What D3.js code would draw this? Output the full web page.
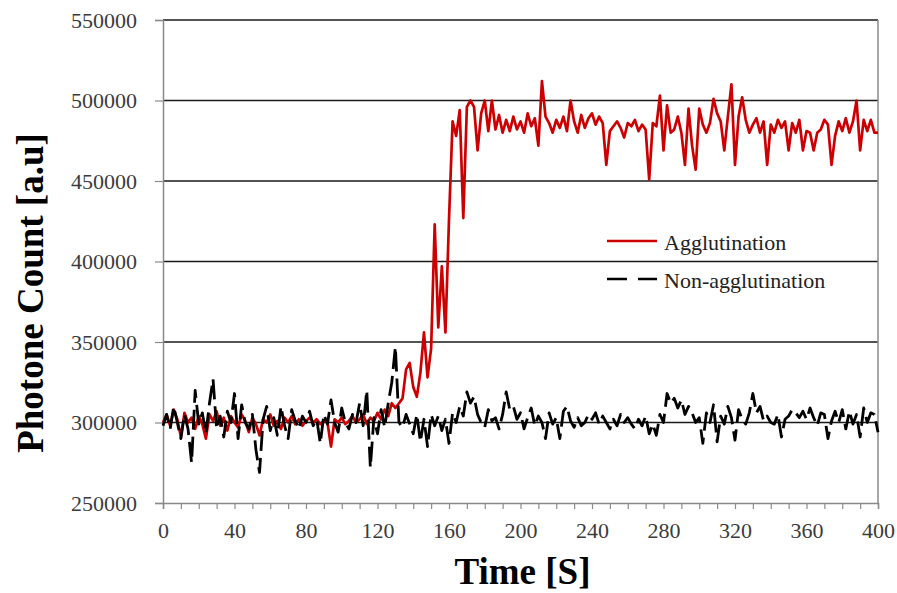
<!DOCTYPE html>
<html>
<head>
<meta charset="utf-8">
<script src="https://cdn.jsdelivr.net/npm/d3@7"></script>
<style>
  html, body { margin: 0; padding: 0; background: #fff; }
  svg { display: block; }
  text { font-family: "Liberation Serif", "Times New Roman", serif; }
</style>
</head>
<body>
<script>
// Sampling step of the recorded traces, in seconds
const sampleStep = 2;

// Photon counts with agglutination, one reading every 2 s from t = 0 to 400 s
const agglutination = [
  300000, 305000, 298000, 308000, 302000, 291000, 306000, 300000, 303000, 296000,
  304000, 299000, 290000, 305000, 301000, 307000, 298000, 303000, 295000, 304000,
  300000, 297000, 305000, 301000, 294000, 303000, 299000, 292000, 302000, 300000,
  305000, 298000, 301000, 296000, 303000, 300000, 304000, 299000, 302000, 298000,
  301000, 303000, 300000, 302000, 299000, 301000, 300000, 285000, 302000, 300000,
  303000, 299000, 301000, 304000, 300000, 302000, 305000, 299000, 303000, 301000,
  306000, 302000, 308000, 304000, 312000, 309000, 312000, 315000, 333000, 337000,
  322000, 316000, 331000, 356000, 328000, 346000, 423000, 359000, 397000, 356000,
  426000, 487000, 478000, 494000, 427000, 496000, 500000, 496000, 469000, 492000,
  500000, 481000, 500000, 482000, 491000, 480000, 488000, 481000, 490000, 482000,
  487000, 480000, 492000, 484000, 489000, 472000, 512000, 490000, 486000, 480000,
  488000, 483000, 490000, 481000, 500000, 487000, 480000, 491000, 483000, 489000,
  492000, 485000, 490000, 486000, 460000, 481000, 484000, 487000, 483000, 477000,
  486000, 484000, 488000, 481000, 485000, 482000, 451000, 486000, 484000, 503000,
  469000, 497000, 480000, 482000, 490000, 480000, 460000, 495000, 472000, 457000,
  495000, 485000, 480000, 486000, 501000, 492000, 487000, 469000, 490000, 510000,
  460000, 490000, 502000, 488000, 480000, 485000, 489000, 480000, 487000, 460000,
  485000, 480000, 488000, 483000, 487000, 469000, 486000, 480000, 488000, 469000,
  481000, 480000, 469000, 480000, 482000, 488000, 485000, 460000, 478000, 487000,
  481000, 489000, 480000, 487000, 500000, 469000, 488000, 481000, 488000, 480000,
  480000
];

// Photon counts without agglutination, same sampling
const nonAgglutination = [
  298000, 305000, 296000, 310000, 300000, 290000, 305000, 296000, 275000, 320000,
  299000, 306000, 293000, 312000, 327000, 296000, 304000, 291000, 307000, 300000,
  318000, 290000, 311000, 300000, 296000, 305000, 283000, 269000, 302000, 310000,
  295000, 303000, 292000, 310000, 298000, 290000, 308000, 301000, 296000, 304000,
  300000, 307000, 298000, 302000, 287000, 305000, 299000, 314000, 300000, 294000,
  309000, 300000, 296000, 305000, 300000, 312000, 298000, 320000, 272000, 303000,
  293000, 308000, 297000, 312000, 325000, 347000, 300000, 297000, 305000, 299000,
  293000, 305000, 288000, 302000, 285000, 305000, 298000, 304000, 295000, 302000,
  287000, 306000, 300000, 310000, 304000, 319000, 312000, 316000, 305000, 300000,
  297000, 308000, 301000, 303000, 296000, 305000, 319000, 308000, 310000, 302000,
  306000, 296000, 303000, 309000, 298000, 304000, 300000, 290000, 306000, 299000,
  303000, 290000, 307000, 310000, 301000, 297000, 303000, 298000, 300000, 305000,
  302000, 306000, 299000, 304000, 300000, 296000, 302000, 298000, 305000, 300000,
  303000, 299000, 296000, 302000, 298000, 304000, 293000, 299000, 292000, 305000,
  300000, 318000, 312000, 315000, 309000, 314000, 305000, 310000, 306000, 300000,
  303000, 287000, 306000, 300000, 311000, 288000, 304000, 299000, 310000, 303000,
  289000, 308000, 302000, 299000, 306000, 318000, 306000, 310000, 301000, 304000,
  300000, 299000, 305000, 291000, 302000, 304000, 308000, 306000, 303000, 307000,
  302000, 309000, 303000, 298000, 306000, 305000, 290000, 301000, 307000, 300000,
  308000, 296000, 307000, 299000, 305000, 291000, 309000, 300000, 306000, 305000,
  294000
];

// Axis ticks
const xTickLabels = [0, 40, 80, 120, 160, 200, 240, 280, 320, 360, 400];
const xMinorTicks = d3.range(0, 401, 10);
const yTickLabels = [250000, 300000, 350000, 400000, 450000, 500000, 550000];

// Legend entries
const seriesNames = ["Agglutination", "Non-agglutination"];

const width = 897, height = 593;
const plot = { left: 163, right: 878, top: 20, bottom: 503 };
const axisGray = "#8a8a8a";
const textGray = "#3b3b3b";
const red = "#cc0000";
const serif = "'Liberation Serif', 'Times New Roman', serif";

const svg = d3.select("body").append("svg")
  .attr("width", width).attr("height", height);

const x = d3.scaleLinear().domain([0, 400]).range([plot.left, plot.right]);
const y = d3.scaleLinear().domain([250000, 550000]).range([plot.bottom, plot.top]);

// Horizontal gridlines (all but the bottom axis line)
svg.append("g")
  .selectAll("line")
  .data(yTickLabels.filter(v => v > 250000))
  .join("line")
  .attr("x1", plot.left).attr("x2", plot.right)
  .attr("y1", d => y(d)).attr("y2", d => y(d))
  .attr("stroke", "#1a1a1a").attr("stroke-width", 1.4);

// Right border
svg.append("line")
  .attr("x1", plot.right).attr("x2", plot.right)
  .attr("y1", plot.top).attr("y2", plot.bottom)
  .attr("stroke", axisGray).attr("stroke-width", 1.5);

// Y axis
const yAxis = svg.append("g")
  .attr("transform", `translate(${plot.left},0)`)
  .attr("font-family", serif)
  .call(d3.axisLeft(y).tickValues(yTickLabels).tickSize(8).tickPadding(18)
    .tickFormat(d3.format("d")));
yAxis.attr("font-family", serif);
yAxis.select(".domain").attr("stroke", axisGray).attr("stroke-width", 1.5);
yAxis.selectAll(".tick line").attr("stroke", axisGray).attr("stroke-width", 1.2);
yAxis.selectAll(".tick text")
  .attr("fill", textGray)
  .style("font-family", serif)
  .style("font-size", "22px");

// X axis: minor ticks every 10 s, labels every 40 s
const xAxis = svg.append("g")
  .attr("transform", `translate(0,${plot.bottom})`)
  .call(d3.axisBottom(x).tickValues(xMinorTicks).tickSize(6)
    .tickFormat(d => xTickLabels.includes(d) ? d : ""));
xAxis.attr("font-family", serif);
xAxis.select(".domain").attr("stroke", axisGray).attr("stroke-width", 1.5);
xAxis.selectAll(".tick line").attr("stroke", axisGray).attr("stroke-width", 1.2);
xAxis.selectAll(".tick text")
  .attr("fill", textGray)
  .attr("dy", 0)
  .attr("y", 35)
  .style("font-family", serif)
  .style("font-size", "22px");

// Traces
const line = d3.line()
  .x((d, i) => x(i * sampleStep))
  .y(d => y(d));

svg.append("path")
  .datum(agglutination)
  .attr("d", line)
  .attr("fill", "none")
  .attr("stroke", red)
  .attr("stroke-width", 2.7)
  .attr("stroke-linejoin", "round");

svg.append("path")
  .datum(nonAgglutination)
  .attr("d", line)
  .attr("fill", "none")
  .attr("stroke", "#000")
  .attr("stroke-width", 2.8)
  .attr("stroke-dasharray", "20,7")
  .attr("stroke-linejoin", "round");

// Legend
const legend = svg.append("g");
const legendRows = [
  { name: seriesNames[0], color: red, dash: null, ly: 241, ty: 250 },
  { name: seriesNames[1], color: "#000", dash: "20,11", ly: 279, ty: 288 }
];
legendRows.forEach(r => {
  legend.append("line")
    .attr("x1", 607).attr("x2", 657)
    .attr("y1", r.ly).attr("y2", r.ly)
    .attr("stroke", r.color).attr("stroke-width", 2.6)
    .attr("stroke-dasharray", r.dash);
  legend.append("text")
    .attr("x", 664).attr("y", r.ty)
    .attr("fill", "#222")
    .style("font-family", serif)
    .style("font-size", "22px")
    .text(r.name);
});

// Axis titles
svg.append("text")
  .attr("x", (plot.left + plot.right) / 2 + 2)
  .attr("y", 584)
  .attr("text-anchor", "middle")
  .attr("fill", "#000")
  .style("font-family", serif)
  .style("font-size", "37px")
  .style("font-weight", "bold")
  .text("Time [S]");

svg.append("text")
  .attr("transform", "translate(43,293) rotate(-90)")
  .attr("text-anchor", "middle")
  .attr("fill", "#000")
  .style("font-family", serif)
  .style("font-size", "37px")
  .style("font-weight", "bold")
  .text("Photone Count [a.u]");
</script>
</body>
</html>
